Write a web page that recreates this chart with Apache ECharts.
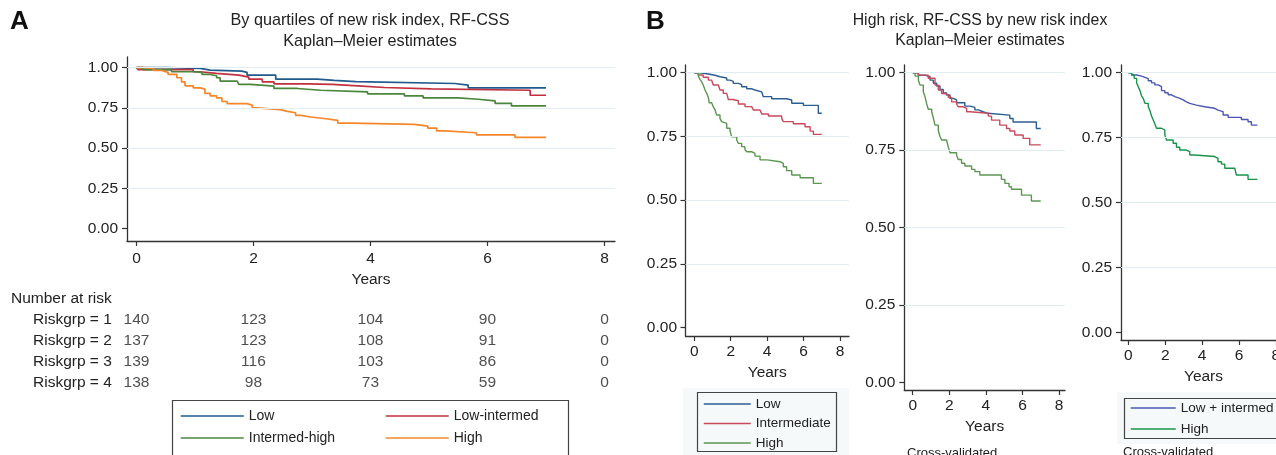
<!DOCTYPE html>
<html>
<head>
<meta charset="utf-8">
<script src="https://cdn.jsdelivr.net/npm/echarts@6/dist/echarts.min.js"></script>
<style>
  html, body { margin: 0; padding: 0; background: #fff; }
  #chart { width: 1276px; height: 455px; }
</style>
</head>
<body>
<div id="chart"></div>
<script>
// tick values
const yearTicks = [0, 2, 4, 6, 8]
const survTicks = [0, 0.25, 0.5, 0.75, 1]
const gridVals = [0.25, 0.5, 0.75, 1]

// panel A, KM steps [years, survival]
const aLow = [[0, 1], [0.52, 0.996], [1.09, 0.985], [1.26, 0.979], [1.8, 0.971], [1.89, 0.954], [2.38, 0.929], [3.09, 0.921], [3.38, 0.913], [3.75, 0.902], [5.44, 0.892], [5.67, 0.875], [7.0, 0.875]]
const aLowInt = [[0, 1], [0.03, 0.9875], [0.97, 0.975], [1.09, 0.965], [1.37, 0.954], [1.75, 0.942], [1.92, 0.929], [2.15, 0.9125], [2.35, 0.9], [2.92, 0.896], [3.35, 0.8875], [3.78, 0.877], [4.24, 0.869], [5.04, 0.86], [6.73, 0.829], [7.0, 0.829]]
const aIntHigh = [[0, 1], [0.11, 0.9875], [0.6, 0.975], [0.97, 0.971], [1.12, 0.958], [1.26, 0.95], [1.37, 0.9375], [1.43, 0.917], [1.72, 0.908], [1.75, 0.896], [1.95, 0.885], [2.35, 0.871], [2.75, 0.86], [3.15, 0.85], [3.95, 0.8375], [4.58, 0.825], [4.9, 0.8125], [5.5, 0.804], [5.84, 0.794], [6.13, 0.779], [6.41, 0.7625], [7.0, 0.7625]]
const aHigh = [[0, 1], [0.11, 0.996], [0.29, 0.983], [0.43, 0.971], [0.54, 0.958], [0.69, 0.9375], [0.77, 0.9125], [0.83, 0.8875], [0.97, 0.875], [1.09, 0.867], [1.17, 0.84], [1.26, 0.825], [1.37, 0.8125], [1.46, 0.79], [1.55, 0.777], [1.89, 0.767], [1.98, 0.75], [2.06, 0.74], [2.46, 0.729], [2.58, 0.72], [2.72, 0.704], [2.81, 0.694], [2.98, 0.683], [3.24, 0.673], [3.44, 0.656], [3.67, 0.648], [4.75, 0.6375], [4.98, 0.625], [5.13, 0.608], [5.27, 0.596], [5.81, 0.583], [6.47, 0.567], [7.0, 0.567]]

// number at risk table
const riskRows = ['Riskgrp = 1', 'Riskgrp = 2', 'Riskgrp = 3', 'Riskgrp = 4']
const riskTimes = [0, 2, 4, 6, 8]
const riskG1 = [140, 123, 104, 90, 0]
const riskG2 = [137, 123, 108, 91, 0]
const riskG3 = [139, 116, 103, 86, 0]
const riskG4 = [138, 98, 73, 59, 0]

// panel B, left
const b1Low = [[0, 1], [0.31, 0.995], [0.77, 0.99], [1.14, 0.984], [1.41, 0.979], [1.78, 0.971], [1.96, 0.966], [2.14, 0.958], [2.42, 0.953], [2.6, 0.945], [2.88, 0.937], [3.15, 0.932], [3.33, 0.925], [3.7, 0.919], [3.79, 0.906], [4.25, 0.898], [5.07, 0.893], [5.35, 0.88], [5.99, 0.872], [6.81, 0.841], [7.0, 0.841]]
const b1Int = [[0, 1], [0.22, 0.991], [0.49, 0.982], [0.77, 0.971], [0.95, 0.969], [1.04, 0.952], [1.32, 0.945], [1.41, 0.932], [1.59, 0.919], [1.78, 0.912], [1.87, 0.895], [2.14, 0.89], [2.42, 0.877], [2.78, 0.867], [3.15, 0.86], [3.24, 0.854], [3.61, 0.847], [3.7, 0.838], [4.07, 0.83], [4.8, 0.821], [4.89, 0.808], [5.44, 0.8], [6.08, 0.788], [6.36, 0.771], [6.54, 0.758], [7.0, 0.758]]
const b1High = [[0, 1], [0.22, 0.987], [0.31, 0.974], [0.4, 0.965], [0.49, 0.952], [0.59, 0.932], [0.68, 0.919], [0.77, 0.903], [0.82, 0.882], [0.95, 0.877], [1.04, 0.867], [1.14, 0.854], [1.23, 0.834], [1.41, 0.821], [1.5, 0.808], [1.59, 0.801], [1.78, 0.782], [1.96, 0.773], [2.05, 0.749], [2.33, 0.736], [2.42, 0.723], [2.6, 0.71], [2.78, 0.699], [2.88, 0.69], [3.15, 0.684], [3.33, 0.673], [3.61, 0.658], [4.0, 0.651], [4.71, 0.644], [4.89, 0.631], [5.07, 0.616], [5.35, 0.599], [5.81, 0.588], [6.54, 0.566], [7.0, 0.566]]

// panel B, middle (cross-validated)
const b2Low = [[0, 1], [0.31, 0.992], [0.67, 0.987], [0.95, 0.976], [1.13, 0.966], [1.31, 0.957], [1.49, 0.946], [1.67, 0.935], [1.85, 0.928], [2.04, 0.917], [2.22, 0.912], [2.4, 0.903], [2.85, 0.892], [3.13, 0.888], [3.4, 0.88], [3.58, 0.874], [3.85, 0.869], [4.1, 0.863], [5.31, 0.852], [5.49, 0.841], [6.76, 0.82], [7.0, 0.82]]
const b2Int = [[0, 1], [0.31, 0.992], [0.85, 0.982], [1.22, 0.96], [1.4, 0.944], [1.58, 0.933], [1.76, 0.928], [1.95, 0.92], [2.13, 0.906], [2.4, 0.899], [2.49, 0.89], [2.76, 0.885], [2.95, 0.874], [3.13, 0.869], [4.13, 0.86], [4.31, 0.847], [4.76, 0.831], [5.13, 0.82], [5.31, 0.812], [5.58, 0.799], [6.04, 0.788], [6.4, 0.767], [7.0, 0.767]]
const b2High = [[0, 1], [0.13, 0.989], [0.31, 0.976], [0.4, 0.96], [0.58, 0.939], [0.67, 0.923], [0.76, 0.901], [0.85, 0.882], [1.04, 0.874], [1.13, 0.853], [1.22, 0.831], [1.4, 0.813], [1.49, 0.794], [1.58, 0.783], [1.85, 0.777], [1.95, 0.759], [2.04, 0.742], [2.4, 0.734], [2.49, 0.72], [2.67, 0.708], [2.85, 0.699], [3.22, 0.688], [3.4, 0.681], [3.67, 0.67], [4.85, 0.656], [5.04, 0.643], [5.27, 0.632], [5.4, 0.624], [5.95, 0.605], [6.49, 0.586], [7.0, 0.586]]

// panel B, right (cross-validated, two groups)
const b3LowInt = [[0, 1], [0.18, 0.991], [0.45, 0.987], [0.72, 0.982], [0.9, 0.977], [1.08, 0.969], [1.26, 0.961], [1.44, 0.953], [1.62, 0.946], [1.8, 0.931], [1.98, 0.923], [2.16, 0.915], [2.34, 0.908], [2.52, 0.901], [2.79, 0.895], [2.97, 0.888], [3.15, 0.882], [3.33, 0.875], [3.69, 0.869], [4.14, 0.863], [4.68, 0.856], [4.86, 0.85], [5.14, 0.837], [5.41, 0.828], [6.13, 0.82], [6.49, 0.811], [6.67, 0.798], [7.0, 0.798]]
const b3High = [[0, 1], [0.18, 0.991], [0.32, 0.978], [0.45, 0.961], [0.54, 0.946], [0.63, 0.931], [0.72, 0.91], [0.81, 0.901], [0.9, 0.882], [1.08, 0.869], [1.17, 0.854], [1.26, 0.833], [1.35, 0.818], [1.44, 0.802], [1.53, 0.786], [1.8, 0.779], [1.98, 0.76], [2.07, 0.741], [2.43, 0.728], [2.61, 0.713], [2.79, 0.702], [3.15, 0.696], [3.33, 0.683], [3.6, 0.677], [4.68, 0.67], [4.86, 0.657], [5.05, 0.648], [5.23, 0.632], [5.77, 0.625], [5.86, 0.606], [6.49, 0.589], [7.0, 0.589]]

const FONT = '"Liberation Sans", Arial, Helvetica, sans-serif'
const INK = '#222'
const AXIS = '#333'
const GRIDLINE = '#e1eef1'

const chart = echarts.init(document.getElementById('chart'), null, { renderer: 'canvas' })

// layout of each panel: grid box + axis ranges (min/max pad the axes past 0..8, 0..1)
const panels = [
  { grid: { left: 127, top: 57, width: 488, height: 184 }, x: [-0.162, 8.18], y: [-0.0764, 1.0665], labelMargin: 10, nameGap: 31, yMargin: 9 },
  { grid: { left: 685.5, top: 65, width: 163.5, height: 271 }, x: [-0.483, 8.495], y: [-0.0325, 1.0302], labelMargin: 8, nameGap: 29, yMargin: 8.5 },
  { grid: { left: 904.3, top: 65, width: 160.7, height: 325 }, x: [-0.459, 8.327], y: [-0.0235, 1.0248], labelMargin: 8, nameGap: 29, yMargin: 9 },
  // right panel runs off the page edge, so its "8" is only half shown
  { grid: { left: 1121, top: 65, width: 165, height: 275 }, x: [-0.396, 8.547], y: [-0.0297, 1.0297], labelMargin: 8, nameGap: 29, yMargin: 9 },
]
const riskGrid = { left: 127, top: 309.5, width: 488, height: 84 }

// keep grids exactly where they are put (v6 would shrink them to fit labels)
const grids = panels.map(p => p.grid).concat([riskGrid])
  .map(g => Object.assign({ outerBoundsMode: 'none', containLabel: false }, g))

const xAxes = panels.map((p, i) => ({
  type: 'value',
  gridIndex: i,
  min: p.x[0],
  max: p.x[1],
  name: 'Years',
  nameLocation: 'middle',
  nameGap: p.nameGap,
  nameTextStyle: { fontSize: 15.5, color: INK, fontFamily: FONT },
  axisLine: { show: true, onZero: false, lineStyle: { color: AXIS, width: 1.3 } },
  axisTick: { show: true, customValues: yearTicks, length: 5, lineStyle: { color: AXIS, width: 1.2 } },
  axisLabel: { customValues: yearTicks, margin: p.labelMargin, fontSize: 15.5, color: INK, fontFamily: FONT },
  splitLine: { show: false },
}))
const yAxes = panels.map((p, i) => ({
  type: 'value',
  gridIndex: i,
  min: p.y[0],
  max: p.y[1],
  axisLine: { show: true, onZero: false, lineStyle: { color: AXIS, width: 1.3 } },
  axisTick: { show: true, customValues: survTicks, length: 5, lineStyle: { color: AXIS, width: 1.2 } },
  axisLabel: { customValues: survTicks, margin: p.yMargin, fontSize: 15.5, color: INK, fontFamily: FONT, formatter: v => v.toFixed(2) },
  splitLine: { show: false },
}))
// risk table uses the same year scale as panel A
xAxes.push({ type: 'value', gridIndex: 4, min: panels[0].x[0], max: panels[0].x[1], show: false })
yAxes.push({
  type: 'category',
  gridIndex: 4,
  data: riskRows,
  inverse: true,
  axisLine: { show: false },
  axisTick: { show: false },
  axisLabel: { align: 'left', margin: 94, fontSize: 15.5, color: INK, fontFamily: FONT },
})

function km(name, data, color, idx, width) {
  return {
    type: 'line',
    name,
    data,
    step: 'end',
    symbol: 'none',
    showSymbol: false,
    xAxisIndex: idx,
    yAxisIndex: idx,
    lineStyle: { color, width },
    itemStyle: { color },
    z: 3,
    silent: true,
  }
}

function gridLines(idx) {
  return {
    type: 'line',
    name: 'grid' + idx,
    data: [],
    xAxisIndex: idx,
    yAxisIndex: idx,
    z: 1,
    silent: true,
    markLine: {
      symbol: 'none',
      silent: true,
      label: { show: false },
      lineStyle: { color: GRIDLINE, type: 'solid', width: 1.2 },
      data: gridVals.map(v => ({ yAxis: v })),
    },
  }
}

function riskRow(rowIdx, values) {
  return {
    type: 'scatter',
    name: riskRows[rowIdx],
    xAxisIndex: 4,
    yAxisIndex: 4,
    symbolSize: 1,
    itemStyle: { color: 'rgba(0,0,0,0)' },
    silent: true,
    data: riskTimes.map((t, i) => [t, rowIdx, values[i]]),
    label: {
      show: true,
      position: 'inside',
      formatter: p => p.value[2],
      fontSize: 15.5,
      color: INK,
      fontFamily: FONT,
    },
  }
}

const series = [
  gridLines(0), gridLines(1), gridLines(2), gridLines(3),
  km('Low', aLow, '#215a8c', 0, 1.7),
  km('Low-intermed', aLowInt, '#c0303f', 0, 1.7),
  km('Intermed-high', aIntHigh, '#4a873c', 0, 1.7),
  km('High', aHigh, '#f5862a', 0, 1.7),
  km('B1:Low', b1Low, '#2b5e93', 1, 1.4),
  km('B1:Intermediate', b1Int, '#c94a5a', 1, 1.4),
  km('B1:High', b1High, '#5c9650', 1, 1.4),
  km('B2:Low', b2Low, '#2b5e93', 2, 1.4),
  km('B2:Intermediate', b2Int, '#c94a5a', 2, 1.4),
  km('B2:High', b2High, '#5c9650', 2, 1.4),
  km('B3:Low + intermed', b3LowInt, '#4b57b3', 3, 1.4),
  km('B3:High', b3High, '#17944a', 3, 1.4),
  riskRow(0, riskG1),
  riskRow(1, riskG2),
  riskRow(2, riskG3),
  riskRow(3, riskG4),
]

// legend key = plain line, no marker
const key = (name, color) => ({
  name,
  itemStyle: { color: 'rgba(0,0,0,0)', borderWidth: 0, opacity: 0 },
  lineStyle: { color, width: 1.5 },
})

function legendAt(left, top, items, width, gap, size) {
  return {
    left,
    top,
    orient: 'vertical',
    padding: 0,
    itemGap: gap,
    itemWidth: width,
    itemHeight: 14,
    selectedMode: false,
    data: items,
    formatter: n => n.split(':').pop(),
    textStyle: { fontSize: size, color: INK, fontFamily: FONT, lineHeight: 14 },
  }
}

const txt = (x, y, text, size, extra) => ({
  type: 'text',
  x,
  y,
  silent: true,
  style: Object.assign({ text, fill: INK, font: size + 'px ' + FONT, align: 'left', verticalAlign: 'middle' }, extra || {}),
})

const graphic = [
  { type: 'rect', shape: { x: 683, y: 388, width: 166, height: 67 }, style: { fill: '#f5f9fa' }, silent: true, z: -1 },
  { type: 'rect', shape: { x: 1117, y: 392, width: 159, height: 52 }, style: { fill: '#f5f9fa' }, silent: true, z: -1 },
  { type: 'rect', shape: { x: 172.5, y: 400.5, width: 396, height: 70 }, style: { fill: 'none', stroke: '#444', lineWidth: 1.2 }, silent: true },
  { type: 'rect', shape: { x: 697.5, y: 392.5, width: 139, height: 59 }, style: { fill: 'none', stroke: '#444', lineWidth: 1.2 }, silent: true },
  { type: 'rect', shape: { x: 1124.5, y: 398.5, width: 170, height: 40 }, style: { fill: 'none', stroke: '#444', lineWidth: 1.2 }, silent: true },
  txt(10, 22, 'A', 26, { font: 'bold 26px ' + FONT, fill: '#111' }),
  txt(646, 22, 'B', 26, { font: 'bold 26px ' + FONT, fill: '#111' }),
  txt(370, 21, 'By quartiles of new risk index, RF-CSS', 16.2, { align: 'center' }),
  txt(370, 42, 'Kaplan–Meier estimates', 16.2, { align: 'center' }),
  txt(980, 21, 'High risk, RF-CSS by new risk index', 15.8, { align: 'center' }),
  txt(980, 41, 'Kaplan–Meier estimates', 15.8, { align: 'center' }),
  txt(11, 299, 'Number at risk', 15.5),
  txt(907, 453, 'Cross-validated', 13),
  txt(1123, 452, 'Cross-validated', 13),
]

chart.setOption({
  animation: false,
  backgroundColor: '#fff',
  textStyle: { fontFamily: FONT },
  grid: grids,
  xAxis: xAxes,
  yAxis: yAxes,
  legend: [
    legendAt(180, 409, [key('Low', '#215a8c'), key('Intermed-high', '#4a873c')], 63, 8, 14),
    legendAt(385, 409, [key('Low-intermed', '#c0303f'), key('High', '#f5862a')], 63, 8, 14),
    legendAt(703, 397, [key('B1:Low', '#2b5e93'), key('B1:Intermediate', '#c94a5a'), key('B1:High', '#5c9650')], 47, 5.5, 13.5),
    legendAt(1130, 401, [key('B3:Low + intermed', '#4b57b3'), key('B3:High', '#17944a')], 45, 7, 13.5),
  ],
  graphic,
  series,
})
</script>
</body>
</html>
